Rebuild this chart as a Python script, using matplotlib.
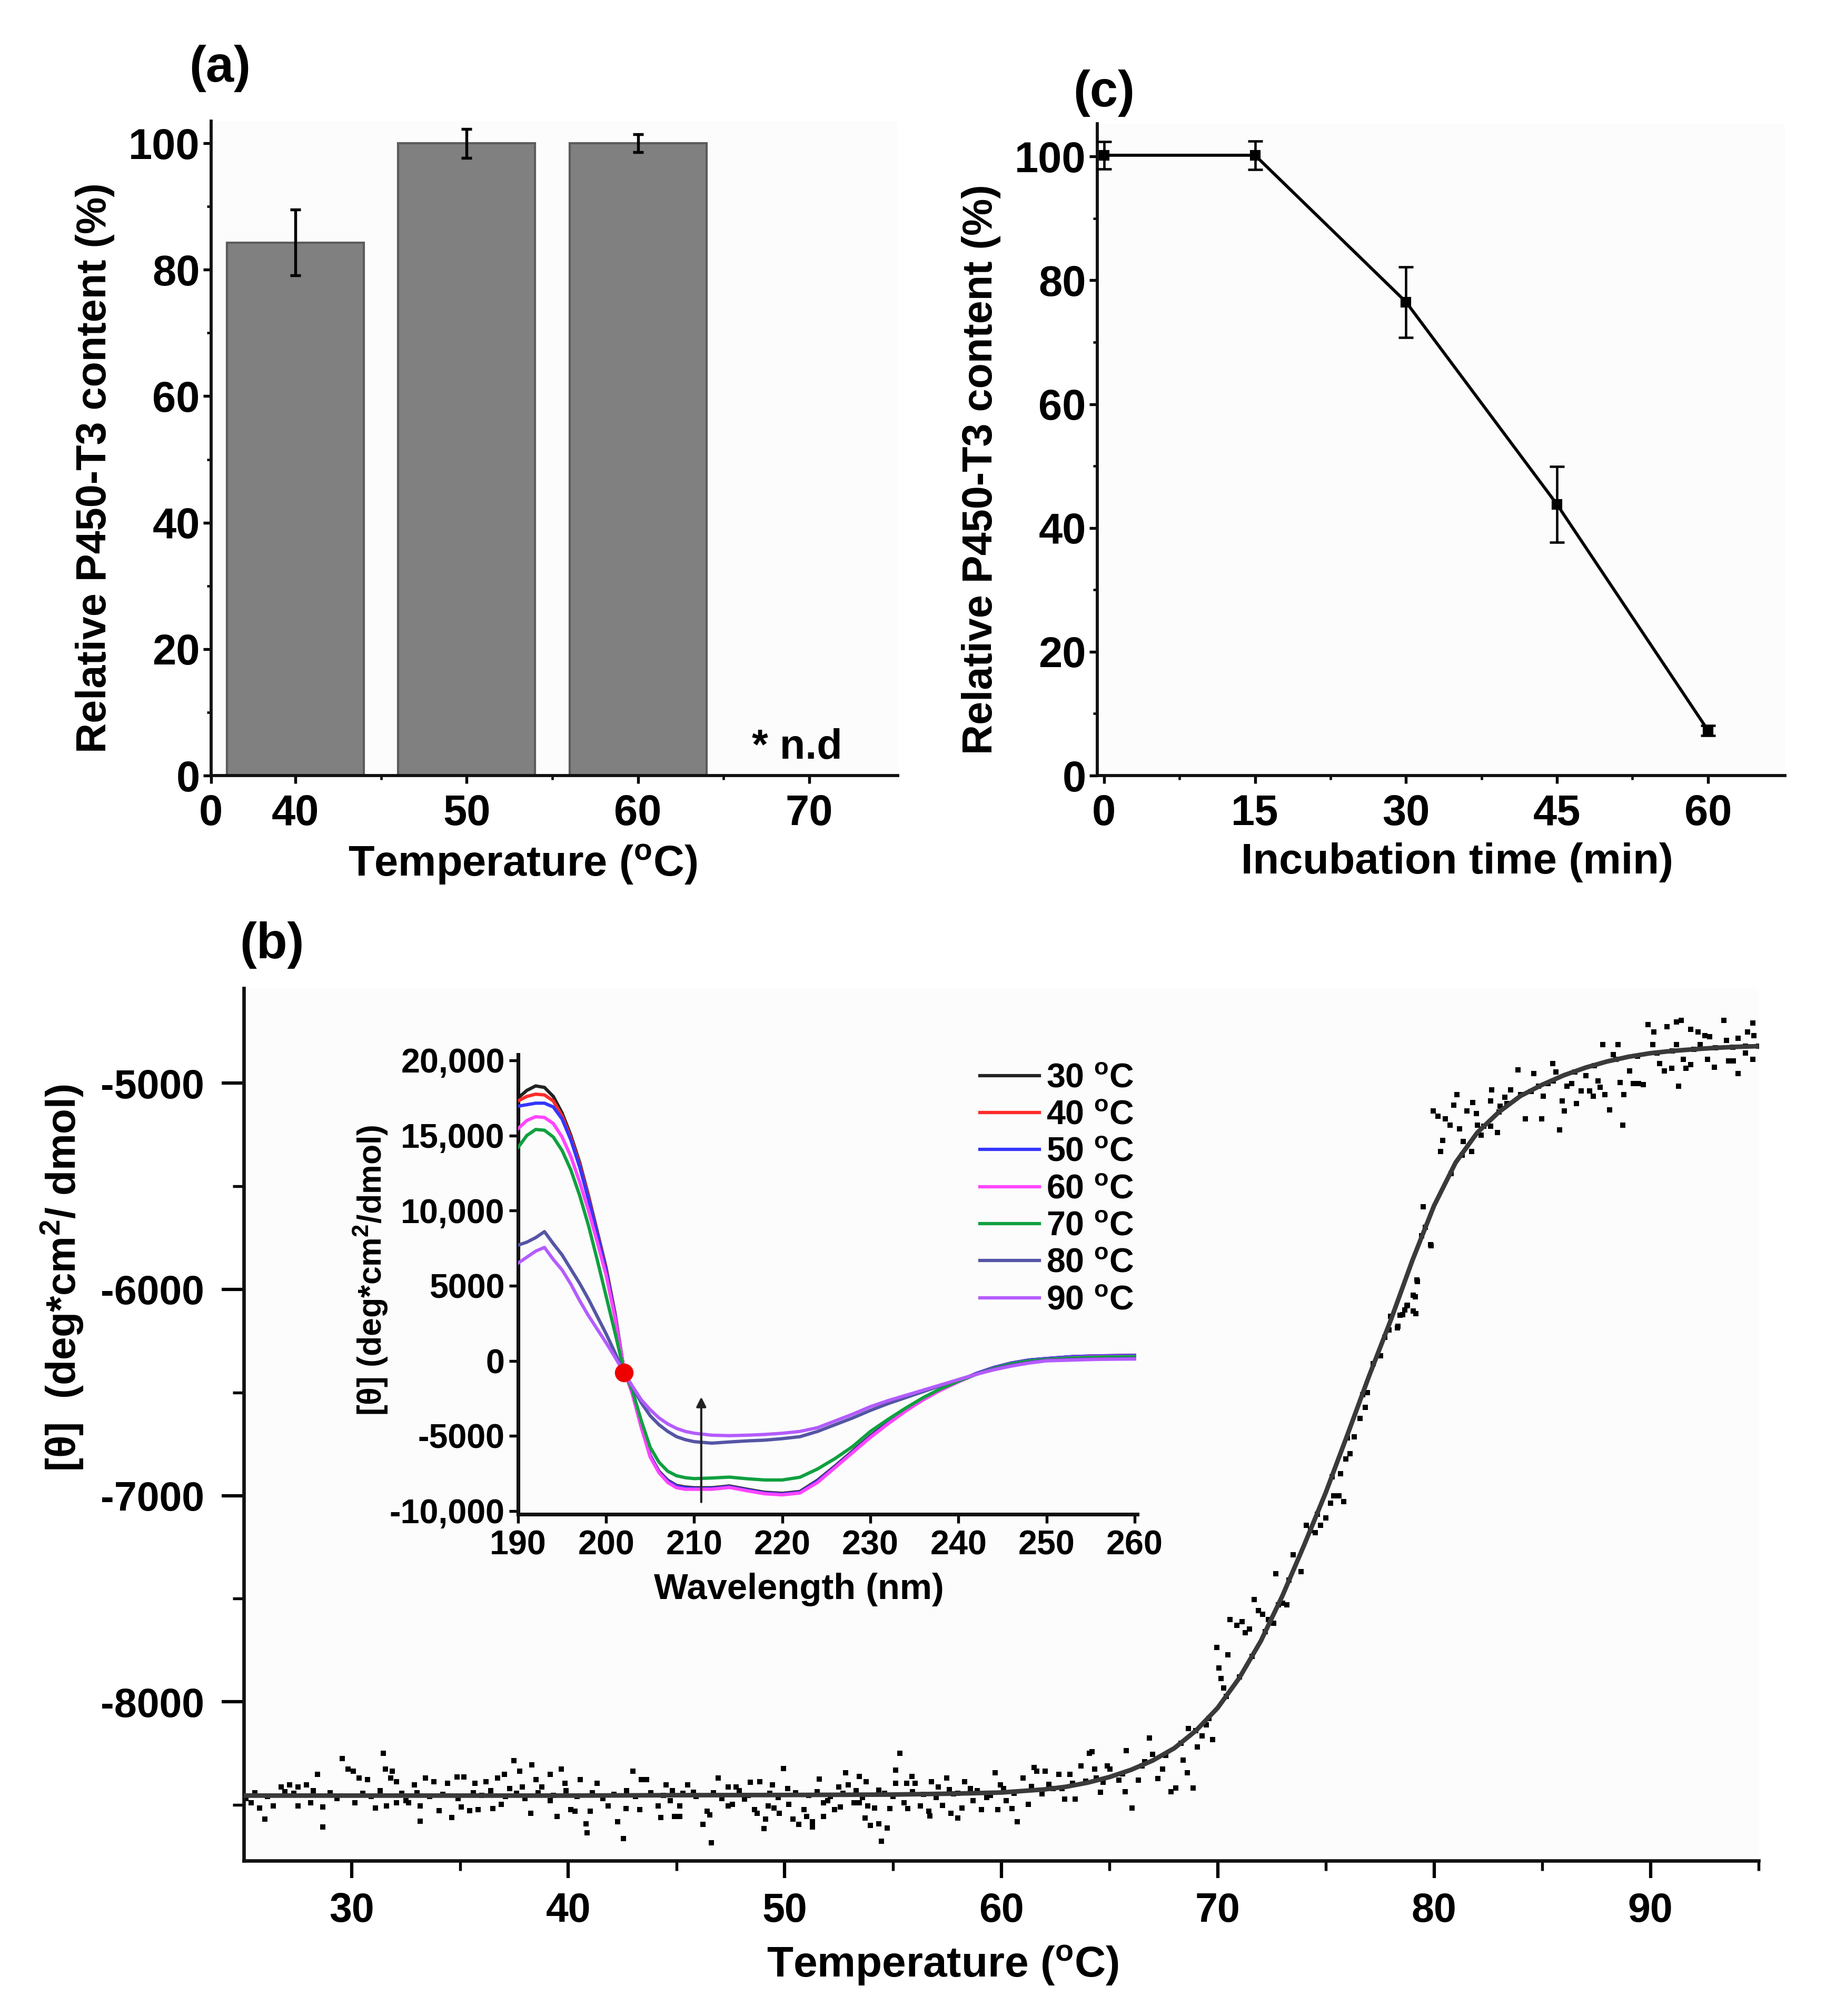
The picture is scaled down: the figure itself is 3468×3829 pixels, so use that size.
import numpy as np
import matplotlib
matplotlib.use("Agg")
import matplotlib.pyplot as plt
from matplotlib.ticker import FixedLocator

plt.rcParams.update({
    "font.family": ["Liberation Sans", "DejaVu Sans"],
    "font.weight": "bold",
    "axes.labelweight": "bold",
    "mathtext.fontset": "custom",
    "mathtext.rm": "Liberation Sans:bold",
    "mathtext.it": "Liberation Sans:bold",
    "mathtext.bf": "Liberation Sans:bold",
    "mathtext.default": "rm",
    "axes.unicode_minus": False,
})

# ---------------- data: panel (a) ----------------
temp_labels_a = ["40", "50", "60", "70"]
content_a = [84.3, 100.0, 100.0]
err_a = [5.2, 2.3, 1.4]

# ---------------- data: panel (c) ----------------
time_c = [0, 15, 30, 45, 60]
content_c = [100.2, 100.2, 76.5, 43.8, 7.3]
err_c = [2.2, 2.3, 5.7, 6.1, 0.8]

# ---------------- data: panel (b) melting curve (scatter) ----------------
melt_pts_1 = [(25.33,-8489),(25.97,-8570),(26.36,-8506),(25.72,-8514),(26.74,-8412),(27.12,-8404),
    (27.51,-8412),(27.89,-8404),(27.51,-8506),(28.08,-8489),(28.66,-8608),(28.40,-8353),(28.66,-8510),
    (29.55,-8276),(29.81,-8327),(30.07,-8336),(30.32,-8370),(30.71,-8378),(30.13,-8489),(31.09,-8514),
    (31.60,-8506),(32.05,-8489),(31.45,-8251),(31.54,-8327),(31.86,-8336),(31.79,-8370),(32.05,-8387),
    (32.50,-8480),(32.62,-8489),(33.14,-8506),(33.14,-8578),(32.88,-8404),(33.39,-8370),(33.78,-8387),
    (34.41,-8395),(34.86,-8365),(35.18,-8365),(34.03,-8527),(34.61,-8561),(35.05,-8510),(35.44,-8527),
    (35.82,-8523),(36.52,-8519),(36.91,-8497),(35.69,-8395),(36.20,-8387),(36.72,-8370),(37.04,-8353),
    (37.48,-8285),(37.74,-8336),(38.32,-8306),(37.29,-8421),(37.87,-8412),(38.25,-8540),(38.51,-8378),
    (38.76,-8412),(39.15,-8353),(39.66,-8327),(39.85,-8395),(39.15,-8480),(39.47,-8557),(40.11,-8523),
    (40.30,-8531),(40.55,-8378),(40.81,-8591),(40.87,-8634),(41.00,-8531),(41.32,-8395),(41.83,-8506),
    (42.28,-8582),(42.54,-8663),(42.66,-8519),(42.98,-8336),(43.37,-8378),(43.62,-8378),(43.30,-8523),
    (44.14,-8506),(44.26,-8561),(44.52,-8404),(44.71,-8480),(44.90,-8557),
    (25.1,-8470),(25.5,-8440),(26.1,-8460),(26.9,-8435),(27.3,-8445),(28.2,-8430),(29.0,-8440),
    (29.3,-8470),(30.5,-8445),(30.9,-8460),(31.3,-8430),(32.3,-8445),(33.0,-8440),(33.6,-8460),
    (34.2,-8450),(34.9,-8470),(35.6,-8440),(36.0,-8455),(36.4,-8430),(37.1,-8460),(37.6,-8445),
    (38.0,-8470),(38.6,-8440),(39.3,-8455),(39.9,-8430),(40.4,-8460),(41.1,-8440),(41.6,-8470),
    (42.1,-8450),(42.7,-8430),(43.1,-8460),(43.8,-8440),(44.4,-8455),(44.8,-8430)]

melt_pts_2 = [(45.14,-8506),(45.14,-8557),(45.52,-8404),(45.78,-8438),(46.22,-8595),(46.42,-8531),
    (46.54,-8548),(46.61,-8684),(46.93,-8370),(47.38,-8506),(47.57,-8497),(47.38,-8412),(47.76,-8412),
    (48.14,-8472),(48.40,-8391),(48.85,-8387),(48.59,-8523),(48.72,-8540),(49.10,-8570),(49.04,-8616),
    (49.23,-8506),(49.49,-8514),(49.74,-8540),(49.42,-8404),(49.93,-8323),(50.13,-8421),(50.19,-8497),
    (50.38,-8570),(50.64,-8595),(50.89,-8523),(51.02,-8557),(51.28,-8582),(51.28,-8608),(51.60,-8374),
    (51.79,-8489),(51.98,-8480),(51.79,-8557),(52.30,-8523),(52.56,-8510),(52.49,-8412),(52.81,-8344),
    (52.94,-8404),(53.45,-8361),(53.77,-8387),(53.20,-8489),(53.45,-8489),(53.71,-8565),(53.96,-8599),
    (54.35,-8591),(54.47,-8676),(54.73,-8612),(53.84,-8506),(54.15,-8514),(54.35,-8429),(54.86,-8519),
    (55.11,-8395),(55.11,-8331),(55.31,-8250),(55.50,-8489),(55.63,-8395),(55.88,-8361),(56.01,-8395),
    (55.69,-8519),(56.27,-8506),(56.65,-8531),(56.71,-8553),(56.78,-8387),(57.10,-8412),(57.48,-8370),
    (57.29,-8502),(57.67,-8540),(57.99,-8565),(57.80,-8446),(58.18,-8514),(58.31,-8387),(58.57,-8421),
    (58.70,-8480),(59.08,-8523),(59.33,-8463),(59.72,-8344),(59.97,-8404),(59.85,-8523),(60.23,-8480),
    (60.49,-8519),(60.74,-8582),(61.00,-8370),(61.25,-8497),(61.51,-8319),(61.64,-8336),(62.02,-8336),
    (61.89,-8446),(62.40,-8421),(62.66,-8353),(62.92,-8472),(63.17,-8353),(63.43,-8472),(63.68,-8310),
    (64.07,-8250),(64.20,-8242),(64.32,-8327),(64.58,-8438),(64.90,-8310),
    (45.3,-8445),(45.9,-8460),(46.7,-8440),(47.1,-8470),(47.9,-8430),(48.3,-8455),(49.3,-8445),
    (49.7,-8465),(50.5,-8440),(51.1,-8455),(51.5,-8435),(52.1,-8460),(52.7,-8445),(53.3,-8430),
    (53.6,-8465),(54.6,-8445),(55.0,-8460),(55.9,-8435),(56.4,-8450),(57.0,-8465),(57.6,-8425),
    (58.0,-8445),(58.9,-8430),(59.5,-8455),(60.1,-8420),(60.6,-8445),(61.4,-8410),(62.2,-8400),
    (62.8,-8420),(63.3,-8395),(63.9,-8385),(64.4,-8370),(64.7,-8390)]

melt_pts_3 = [(65.03,-8327),(65.43,-8381),(65.74,-8435),(66.04,-8515),(66.34,-8381),(65.79,-8237),
    (66.85,-8175),(67.00,-8255),(66.64,-8291),(67.25,-8372),(67.45,-8327),(67.85,-8435),(68.06,-8417),
    (68.41,-8282),(68.61,-8345),(68.86,-8417),(68.66,-8130),(69.06,-8220),(69.27,-8166),(69.47,-8112),
    (69.77,-8184),(69.97,-7736),(70.07,-7835),(70.17,-7888),(70.27,-7933),(70.47,-7772),(70.58,-7602),
    (70.88,-7629),(71.13,-7611),(71.28,-7664),(71.48,-7646),(71.68,-7503),(71.89,-7557),(72.09,-7575),
    (72.34,-7602),(72.59,-7620),(72.69,-7378),(73.00,-7521),(73.20,-7530),(73.50,-7288),(73.85,-7369),
    (74.10,-7145),(74.51,-7181),(74.76,-7145),(75.01,-7109),(75.21,-7038),(75.36,-7002),(75.62,-7002),
    (75.82,-7029),(75.67,-6894),(75.92,-6823),(76.12,-6796),(76.32,-6715),(76.57,-6626),(76.83,-6572),
    (76.93,-6500),(77.53,-6321),(77.73,-6232),(77.93,-6196),(78.34,-6178),(78.54,-6124),(78.74,-6079),
    (79.04,-6106),(79.14,-6035),(79.24,-5963),(79.85,-5784),
    (65.6,-8350),(66.5,-8310),(67.6,-8260),(68.3,-8200),(69.0,-8140),(69.6,-8080),(70.4,-7975),
    (71.0,-7880),(71.6,-7780),(72.2,-7660),(72.8,-7530),(73.3,-7410),(74.3,-7170),(74.6,-7090),
    (75.3,-6910),(76.0,-6720),(76.7,-6510),(77.2,-6360),(78.0,-6130)]

melt_pts_4 = [(79.20,-5954),(79.04,-6028),(78.76,-6076),(78.65,-6101),(79.15,-6119),(78.43,-6125),
    (78.32,-6186),(79.42,-5741),(79.86,-5789),(79.51,-5600),(79.97,-5136),(80.19,-5161),(80.41,-5277),
    (80.30,-5332),(80.52,-5173),(80.74,-5203),(80.91,-5106),(81.07,-5057),(81.18,-5222),(81.35,-5283),
    (81.51,-5136),(81.79,-5094),(81.95,-5148),(82.01,-5203),(81.73,-5332),(82.17,-5252),(82.61,-5210),
    (82.61,-5087),(82.67,-5032),(83.05,-5112),(83.27,-5069),(83.55,-5032),(83.38,-5100),(82.94,-5240),
    (83.88,-4935),(84.21,-5173),(84.60,-4953),(84.82,-5014),(84.98,-5173),(85.04,-5063),(85.26,-5002),
    (85.48,-4904),(85.64,-4947),(85.81,-5228),(85.92,-5087),(86.03,-5136),(86.14,-5014),(86.36,-5002),
    (86.58,-5100),(86.80,-5039),(87.02,-4965),(87.18,-5039),(87.35,-5063),(87.57,-4990),(87.68,-5020),
    (87.90,-5057),(88.12,-5130),(88.28,-4862),(88.50,-4813),(87.79,-4813),(88.61,-4996),(88.78,-5057),
    (88.72,-5203),(89.05,-4941),(89.22,-5002),(89.44,-5002),(89.66,-5008),(89.88,-4715),(90.16,-4752),
    (90.10,-4813),(90.43,-4904),(90.65,-4941),(90.98,-4929),(90.76,-4727),(91.20,-4703),(91.42,-4697),
    (91.20,-4813),(91.31,-5014),(91.53,-4886),(91.64,-4929),(91.86,-4910),(91.86,-4739),(92.19,-4752),
    (92.52,-4770),(92.74,-4776),(92.30,-4813),(92.63,-4886),(92.96,-4923),(93.40,-4697),(93.51,-4794),
    (93.62,-4892),(93.84,-4892),(94.06,-4953),(94.06,-4782),(94.39,-4855),(94.50,-4752),(94.72,-4886),
    (94.72,-4709),(94.78,-4770),
    (79.6,-5700),(80.8,-5440),(81.3,-5350),(82.3,-5210),(83.0,-5140),(84.0,-5055),(84.5,-5040),
    (85.5,-4990),(86.5,-4945),(87.4,-4915),(88.4,-4885),(89.4,-4870),(90.3,-4855),(91.0,-4845),
    (92.0,-4836),(93.0,-4829),(93.8,-4825),(94.4,-4822),(95.0,-4821)]

# fitted curve
fit_T = [25, 30, 35, 40, 45, 50, 55, 58, 60, 62, 63, 64, 65, 66, 67, 68, 69, 70, 71, 72, 73,
         74, 75, 76, 77, 78, 79, 80, 81, 82, 83, 84, 85, 86, 87, 88, 89, 90, 91, 92, 93, 94, 95]
fit_theta = [-8455, -8455, -8455, -8455, -8453, -8452, -8450, -8445, -8440, -8425, -8412, -8392,
             -8365, -8330, -8285, -8225, -8140, -8030, -7885, -7705, -7485, -7240, -6985, -6705,
             -6420, -6150, -5860, -5595, -5385, -5240, -5140, -5062, -5008, -4962, -4925, -4895,
             -4872, -4855, -4844, -4836, -4829, -4824, -4821]

# ---------------- data: inset CD spectra ----------------
wavelength = [190, 191, 192, 193, 194, 195, 196, 197, 198, 199, 200, 201, 202, 203, 204, 205, 206,
              207, 208, 209, 210, 212, 214, 216, 218, 220, 222, 224, 226, 228, 230, 232, 234, 236,
              238, 240, 242, 244, 246, 248, 250, 253, 256, 260]
cd_30 = [17500, 18000, 18300, 18200, 17600, 16500, 15000, 13200, 11000, 8600, 6200, 3200, -500,
         -2200, -4400, -6300, -7350, -7950, -8300, -8400, -8450, -8450, -8330, -8550, -8750, -8820,
         -8700, -7950, -7000, -6000, -5000, -4100, -3300, -2550, -1900, -1350, -850, -450, -150,
         50, 150, 280, 330, 360]
cd_40 = [17300, 17600, 17750, 17700, 17300, 16300, 14850, 13050, 10900, 8500, 6100, 3100, -500,
         -2200, -4400, -6300, -7400, -8000, -8350, -8450, -8500, -8500, -8380, -8600, -8800, -8870,
         -8750, -8000, -7050, -6050, -5050, -4150, -3300, -2550, -1900, -1350, -850, -450, -150,
         50, 150, 280, 330, 360]
cd_50 = [16950, 17050, 17150, 17150, 16900, 16100, 14700, 12900, 10750, 8400, 6000, 3050, -500,
         -2200, -4400, -6300, -7400, -8000, -8350, -8450, -8500, -8500, -8380, -8600, -8800, -8870,
         -8750, -8000, -7050, -6050, -5050, -4150, -3300, -2550, -1900, -1350, -850, -450, -150,
         50, 150, 280, 330, 360]
cd_60 = [15450, 16000, 16250, 16200, 15800, 14900, 13600, 11900, 10000, 7900, 5700, 2900, -500,
         -2250, -4450, -6400, -7450, -8100, -8450, -8550, -8550, -8550, -8430, -8650, -8850, -8920,
         -8800, -8100, -7100, -6100, -5100, -4200, -3350, -2600, -1950, -1400, -900, -500, -200,
         0, 100, 220, 280, 300]
cd_70 = [14200, 15000, 15400, 15350, 14900, 14000, 12700, 11000, 9000, 6700, 4300, 1900, -600,
         -2000, -4000, -5750, -6750, -7350, -7650, -7780, -7840, -7800, -7740, -7850, -7930, -7930,
         -7750, -7200, -6500, -5700, -4700, -3900, -3150, -2450, -1850, -1350, -900, -500, -200,
         0, 100, 200, 250, 280]
cd_80 = [7700, 7900, 8200, 8600, 7800, 7050, 6100, 5150, 4100, 2950, 1800, 550, -750, -1750,
         -2800, -3650, -4250, -4700, -5050, -5250, -5380, -5480, -5400, -5330, -5280, -5180, -5050,
         -4700, -4250, -3800, -3300, -2850, -2450, -2050, -1650, -1250, -900, -550, -300, -100, 50,
         100, 120, 150]
cd_90 = [6500, 6900, 7300, 7550, 6750, 6050, 5100, 4000, 3000, 2100, 1200, 250, -750, -1700,
         -2600, -3250, -3800, -4200, -4500, -4700, -4820, -4950, -4980, -4950, -4900, -4820, -4700,
         -4450, -4000, -3550, -3050, -2650, -2300, -1950, -1600, -1250, -900, -600, -350, -150, 0,
         50, 100, 120]
cd_labels = ["30", "40", "50", "60", "70", "80", "90"]
cd_colors = ["#222222", "#ff2a2a", "#3535ff", "#ff45ff", "#10a040", "#5555a5", "#b45cff"]
isosbestic = (202.0, -800)
arrow_wl = 210.8
arrow_from, arrow_to = -9400, -2400

# ---------------- figure ----------------
W, H = 3468, 3829
fig = plt.figure(figsize=(W / 300, H / 300), dpi=300)
bg = "#fcfcfc"

def style(ax, spine_w=1.4):
    ax.set_facecolor(bg)
    for s in ["top", "right"]:
        ax.spines[s].set_visible(False)
    for s in ["left", "bottom"]:
        ax.spines[s].set_linewidth(spine_w)
        ax.spines[s].set_color("#111111")

# ---- panel (a)
ax_a = fig.add_axes([0.1155, 0.6153, 0.3762, 0.3246])
style(ax_a)
xpos = np.arange(len(temp_labels_a))
ax_a.bar(xpos[:len(content_a)], content_a, width=0.8, color="#808080", edgecolor="#5c5c5c",
         linewidth=1.0, zorder=2)
ax_a.errorbar(xpos[:len(content_a)], content_a, yerr=err_a, fmt="none", ecolor="black",
              elinewidth=1.3, capsize=2.3, capthick=1.3, zorder=3)
ax_a.set_xlim(-0.493, 3.517)
ax_a.set_ylim(0, 103.5)
ax_a.set_xticks([-0.493] + list(xpos))
ax_a.set_xticklabels(["0"] + temp_labels_a)
ax_a.xaxis.set_minor_locator(FixedLocator([0.5, 1.5, 2.5]))
ax_a.set_yticks(np.arange(0, 101, 20))
ax_a.yaxis.set_minor_locator(FixedLocator(np.arange(10, 100, 20)))
ax_a.tick_params(axis="both", which="major", length=3.5, width=1.3, labelsize=19.5)
ax_a.tick_params(axis="both", which="minor", length=2.0, width=1.1)
ax_a.tick_params(axis="x", which="major", pad=5)
ax_a.tick_params(axis="y", which="major", pad=1.5)
ax_a.text(2.93, 4.4, "* n.d", fontsize=19, fontweight="bold", ha="center", va="center")
ax_a.set_ylabel("Relative P450-T3 content (%)", fontsize=19)
ax_a.yaxis.set_label_coords(-0.140, 0.47)
ax_a.set_xlabel("Temperature ($^{o}$C)", fontsize=19.5)
ax_a.xaxis.set_label_coords(0.454, -0.103)

# ---- panel (c)
ax_c = fig.add_axes([0.6008, 0.6153, 0.3768, 0.3232])
style(ax_c)
ax_c.errorbar(time_c, content_c, yerr=err_c, color="black", lw=1.4, marker="s", ms=4.0,
              capsize=3.3, elinewidth=1.1, capthick=1.1, clip_on=False, zorder=3)
ax_c.set_xlim(-0.69, 67.66)
ax_c.set_ylim(0, 105.25)
ax_c.set_xticks(time_c)
ax_c.xaxis.set_minor_locator(FixedLocator([7.5, 22.5, 37.5, 52.5]))
ax_c.set_yticks(np.arange(0, 101, 20))
ax_c.yaxis.set_minor_locator(FixedLocator(np.arange(10, 100, 20)))
ax_c.tick_params(axis="both", which="major", length=3.5, width=1.3, labelsize=19.5)
ax_c.tick_params(axis="both", which="minor", length=2.0, width=1.1)
ax_c.tick_params(axis="x", which="major", pad=5)
ax_c.tick_params(axis="y", which="major", pad=1.5)
ax_c.set_ylabel("Relative P450-T3 content (%)", fontsize=19)
ax_c.yaxis.set_label_coords(-0.140, 0.47)
ax_c.set_xlabel("Incubation time (min)", fontsize=19.5)
ax_c.xaxis.set_label_coords(0.523, -0.103)

# ---- panel (b)
ax_b = fig.add_axes([0.1335, 0.0770, 0.8296, 0.4328])
style(ax_b, spine_w=1.6)
pts = np.array(melt_pts_1 + melt_pts_2 + melt_pts_3 + melt_pts_4)
ax_b.plot(pts[:, 0], pts[:, 1], linestyle="none", marker="s", ms=2.2, mew=0, color="black",
          zorder=2)
ax_b.plot(fit_T, fit_theta, color="#3a3a3a", lw=2.1, zorder=3, solid_capstyle="round")
ax_b.set_xlim(25, 95)
ax_b.set_ylim(-8771, -4540)
ax_b.set_xticks(np.arange(30, 91, 10))
ax_b.xaxis.set_minor_locator(FixedLocator(np.arange(35, 96, 10)))
ax_b.set_yticks([-8000, -7000, -6000, -5000])
ax_b.set_yticklabels(["-8000", "-7000", "-6000", "-5000"])
ax_b.yaxis.set_minor_locator(FixedLocator([-8500, -7500, -6500, -5500]))
ax_b.tick_params(axis="y", which="major", length=10, width=1.5, labelsize=18.5, pad=8)
ax_b.tick_params(axis="y", which="minor", length=5, width=1.3)
ax_b.tick_params(axis="x", which="major", length=8, width=1.5, labelsize=18.5, pad=6)
ax_b.tick_params(axis="x", which="minor", length=4.5, width=1.3)
ax_b.set_ylabel("[θ]  (deg*cm$^{2}$/ dmol)", fontsize=18.8)
ax_b.yaxis.set_label_coords(-0.1045, 0.668)
ax_b.set_xlabel("Temperature ($^{o}$C)", fontsize=19.7)
ax_b.xaxis.set_label_coords(0.4616, -0.095)

# ---- inset
ax_in = fig.add_axes([0.2837, 0.2489, 0.3391, 0.2280])
ax_in.patch.set_alpha(0)
for s in ["top", "right"]:
    ax_in.spines[s].set_visible(False)
for s in ["left", "bottom"]:
    ax_in.spines[s].set_linewidth(1.7)
    ax_in.spines[s].set_color("#111111")
series = [cd_30, cd_40, cd_50, cd_60, cd_70, cd_80, cd_90]
order = [6, 5, 4, 3, 2, 1, 0]
handles = [None] * len(series)
for i in order:
    ln, = ax_in.plot(wavelength, series[i], color=cd_colors[i], lw=1.5,
                     label=cd_labels[i] + " $^{o}$C", zorder=2 + i)
    handles[i] = ln
ax_in.plot([isosbestic[0]], [isosbestic[1]], marker="o", ms=8.5, color="#ee0000", mew=0, zorder=12)
ax_in.annotate("", xy=(arrow_wl, arrow_to), xytext=(arrow_wl, arrow_from),
               arrowprops=dict(arrowstyle="-|>", color="#222222", lw=1.0,
                               mutation_scale=9, shrinkA=0, shrinkB=0), zorder=11)
ax_in.set_xlim(190, 260.3)
ax_in.set_ylim(-10210, 20386)
ax_in.set_xticks(np.arange(190, 261, 10))
ax_in.set_yticks([-10000, -5000, 0, 5000, 10000, 15000, 20000])
ax_in.set_yticklabels(["-10,000", "-5000", "0", "5000", "10,000", "15,000", "20,000"])
ax_in.tick_params(axis="both", which="major", length=4, width=1.3, labelsize=15.5)
ax_in.tick_params(axis="y", pad=2.0)
ax_in.tick_params(axis="x", pad=3.0)
ax_in.set_xlabel("Wavelength (nm)", fontsize=16.5)
ax_in.xaxis.set_label_coords(0.454, -0.127)
ax_in.set_ylabel("[θ] (deg*cm$^{2}$/dmol)", fontsize=15)
ax_in.yaxis.set_label_coords(-0.2075, 0.53)
leg = ax_in.legend(handles=handles, loc="upper right", bbox_to_anchor=(1.0, 0.99),
                   frameon=False, fontsize=15.5, handlelength=1.75, handletextpad=0.2,
                   labelspacing=0.16, borderaxespad=0.0, borderpad=0.1)

# ---- panel letters
fig.text(418 / W, 1 - 130 / H, "(a)", fontsize=23, fontweight="bold", ha="center", va="center")
fig.text(2097 / W, 1 - 177 / H, "(c)", fontsize=23, fontweight="bold", ha="center", va="center")
fig.text(516 / W, 1 - 1795 / H, "(b)", fontsize=23, fontweight="bold", ha="center", va="center")

fig.savefig("out.png", dpi=300, facecolor="white")
